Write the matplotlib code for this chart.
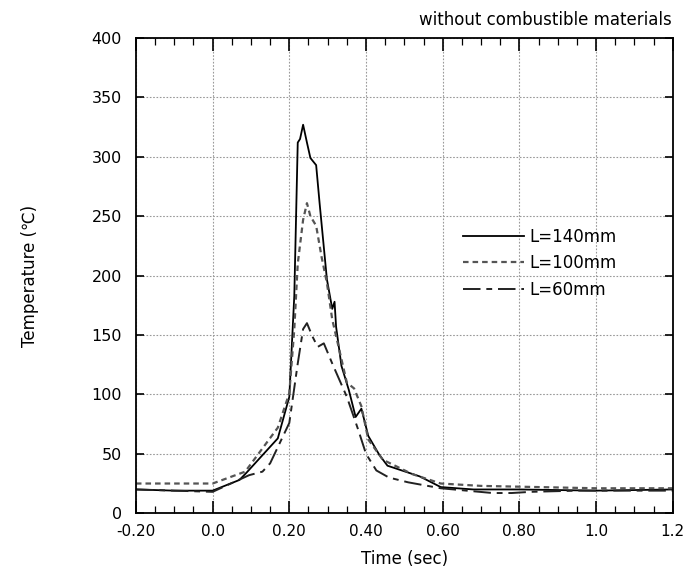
import matplotlib
matplotlib.use("Agg")
import matplotlib.pyplot as plt
from matplotlib.ticker import MultipleLocator

# Data
t140 = [-0.20, -0.10, 0.0, 0.07, 0.088, 0.17, 0.20, 0.213, 0.222, 0.228, 0.236, 0.246, 0.255, 0.27, 0.279,
        0.298, 0.312, 0.318, 0.322, 0.336, 0.355, 0.373, 0.388, 0.406, 0.435, 0.456, 0.54, 0.595,
        0.68, 0.80, 1.0, 1.2]
T140 = [20, 19, 19, 28, 34, 63, 98, 183, 312, 315, 327, 312, 299, 293, 261,
        197, 172, 178, 157, 124, 104, 81, 88, 65, 49, 40, 31, 22,
        20, 20, 19, 20]

t100 = [-0.20, -0.10, 0.0, 0.085, 0.17, 0.20, 0.213, 0.222, 0.236, 0.246, 0.255, 0.27, 0.284,
        0.298, 0.312, 0.33, 0.35, 0.369, 0.388, 0.406, 0.444, 0.52, 0.595, 0.70, 0.85, 1.0, 1.2]
T100 = [25, 25, 25, 35, 72, 101, 155, 210, 247, 261, 250, 242, 216,
        194, 163, 138, 110, 105, 90, 62, 45, 33, 25, 23, 22, 21, 21]

t60 = [-0.20, -0.10, 0.0, 0.095, 0.13, 0.15, 0.20, 0.222, 0.236, 0.246, 0.26, 0.274, 0.29,
       0.312, 0.35, 0.38, 0.40, 0.427, 0.46, 0.51, 0.595, 0.73, 0.78, 0.83, 0.95, 1.1, 1.2]
T60 = [20, 19, 18, 32, 35, 42, 76, 126, 155, 160, 149, 140, 143,
       126, 98, 70, 50, 36, 30, 26, 21, 17, 17, 18, 19, 19, 19]

xticks = [-0.20, 0.0, 0.20, 0.40, 0.60, 0.80, 1.0, 1.2]
xticklabels = ["-0.20", "0.0", "0.20", "0.40", "0.60", "0.80", "1.0", "1.2"]
yticks = [0, 50, 100, 150, 200, 250, 300, 350, 400]

fig = plt.figure(figsize=(6.9, 5.76), dpi=100)
ax = fig.add_axes([0.197, 0.109, 0.778, 0.825])

ax.plot(t140, T140, color="black", lw=1.3, ls="-", label="L=140mm")
ax.plot(t100, T100, color="#555555", lw=1.6, ls=(0, (2.5, 1.8)), label="L=100mm")
ax.plot(t60, T60, color="#222222", lw=1.4, ls=(0, (9, 3, 3, 3)), label="L=60mm")

ax.set_xlim(-0.2, 1.2)
ax.set_ylim(0, 400)
ax.set_xticks(xticks)
ax.set_xticklabels(xticklabels)
ax.set_yticks(yticks)
ax.xaxis.set_minor_locator(MultipleLocator(0.05))
ax.tick_params(axis="x", which="major", direction="in", length=9, width=1.2, top=True,
               labelsize=11, pad=8)
ax.tick_params(axis="y", which="major", direction="in", length=6, width=1.2, right=True,
               labelsize=11.5, pad=10)
ax.tick_params(axis="x", which="minor", direction="in", length=5, width=0.9, top=True)
ax.grid(True, which="major", color="#999999", ls=(0, (1.5, 1.5)), lw=0.8)
for s in ax.spines.values():
    s.set_linewidth(1.3)

ax.set_xlabel("Time (sec)", fontsize=12, labelpad=8)
ax.set_ylabel("Temperature (℃)", fontsize=12, labelpad=38)
fig.text(0.973, 0.966, "without combustible materials", ha="right", va="center",
         fontsize=12)

leg = ax.legend(loc="upper left", bbox_to_anchor=(0.581, 0.632), frameon=False,
                fontsize=12, handlelength=3.7, handletextpad=0.3, labelspacing=0.5)

fig.savefig("out.png", dpi=100)
